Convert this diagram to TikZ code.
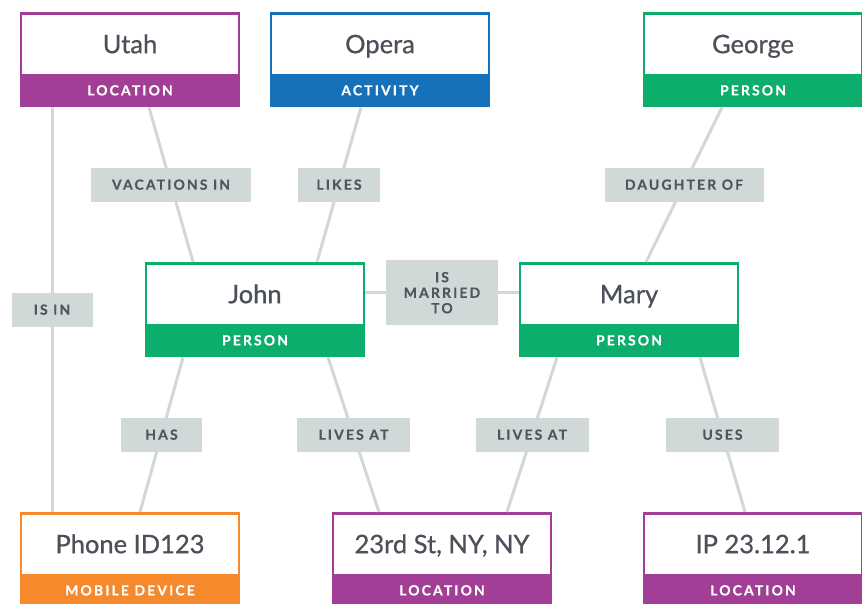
\documentclass[tikz,border=0pt]{standalone}
\usepackage{fontspec}
\setmainfont{Lato}
\newfontfamily\titlefont{Lato}[FakeBold=0.7]
\newfontfamily\spacedfont{Lato}[LetterSpace=15,BoldFeatures={FakeBold=0.3}]
\definecolor{cpurple}{HTML}{A23E96}
\definecolor{cblue}{HTML}{1571BA}
\definecolor{cgreen}{HTML}{0BAE6B}
\definecolor{corange}{HTML}{F5892B}
\definecolor{lnk}{HTML}{D0D8D8}
\definecolor{lblfill}{HTML}{D1D8D8}
\definecolor{txt}{HTML}{4C5059}
\definecolor{lbltxt}{HTML}{50555E}
\tikzset{
  link/.style={draw=lnk, line width=3pt},
  ent/.style={rectangle, inner sep=0pt, minimum width=220pt, minimum height=95pt, fill=#1},
  enttitle/.style={rectangle, inner sep=0pt, fill=white, minimum width=216pt, minimum height=59pt,
    font=\titlefont\fontsize{25.5}{30}\selectfont, text=txt, text height=18pt, text depth=0pt},
  entband/.style={inner sep=0pt, text=white, font=\spacedfont\bfseries\fontsize{14}{16}\selectfont,
    text height=10pt, text depth=0pt},
  lbl/.style={rectangle, fill=lblfill, inner sep=0pt, minimum height=34pt, text=lbltxt,
    font=\spacedfont\bfseries\fontsize{14}{15.5}\selectfont, align=center},
  lbl1/.style={lbl, text height=10pt, text depth=0pt},
}
\newcommand\entity[6]{%
  \node[ent=#6, anchor=north] (#1) at (#2,#3) {};
  \node[enttitle, anchor=north] (#1-t) at ([yshift=-2.5pt]#1.north) {#4};
  \node[entband] (#1-b) at ([yshift=17pt]#1.south) {#5};
}
\begin{document}
\begin{tikzpicture}[x=1pt,y=-1pt]
\useasboundingbox (0,0) rectangle (862,603);
\entity{utah}{130}{12}{Utah}{LOCATION}{cpurple}
\entity{opera}{380}{12}{Opera}{ACTIVITY}{cblue}
\entity{george}{753}{12}{George}{PERSON}{cgreen}
\entity{john}{255}{262}{John}{PERSON}{cgreen}
\entity{mary}{629}{262}{Mary}{PERSON}{cgreen}
\entity{phone}{130}{512}{Phone ID123}{MOBILE DEVICE}{corange}
\entity{street}{442}{512}{23rd St, NY, NY}{LOCATION}{cpurple}
\entity{ip}{753}{512}{IP 23.12.1}{LOCATION}{cpurple}

\draw[link] ([xshift=-78pt]utah.south) -- node[lbl1, minimum width=81pt] (l-isin) {IS IN} ([xshift=-78pt]phone.north);
\draw[link] ([xshift=19pt]utah.south) -- node[lbl1, minimum width=160pt] (l-vac) {VACATIONS IN} ([xshift=-62pt]john.north);
\draw[link] ([xshift=-19pt]opera.south) -- node[lbl1, minimum width=82pt] (l-likes) {LIKES} ([xshift=62pt]john.north);
\draw[link] ([xshift=-31pt]george.south) -- node[lbl1, minimum width=159pt] (l-daughter) {DAUGHTER OF} ([xshift=17pt]mary.north);
\draw[link] ([yshift=17pt]john.east) -- node[lbl, minimum width=112pt, minimum height=65pt] (l-married) {IS\\MARRIED\\TO} ([yshift=17pt]mary.west);
\draw[link] ([xshift=-72pt]john.south) -- node[lbl1, minimum width=81pt] (l-has) {HAS} ([xshift=10pt]phone.north);
\draw[link] ([xshift=73pt]john.south) -- node[lbl1, minimum width=113pt] (l-lives1) {LIVES AT} ([xshift=-63pt]street.north);
\draw[link] ([xshift=-72pt]mary.south) -- node[lbl1, minimum width=113pt] (l-lives2) {LIVES AT} ([xshift=65pt]street.north);
\draw[link] ([xshift=71pt]mary.south) -- node[lbl1, minimum width=113pt] (l-uses) {USES} ([xshift=-8pt]ip.north);
\end{tikzpicture}
\end{document}
